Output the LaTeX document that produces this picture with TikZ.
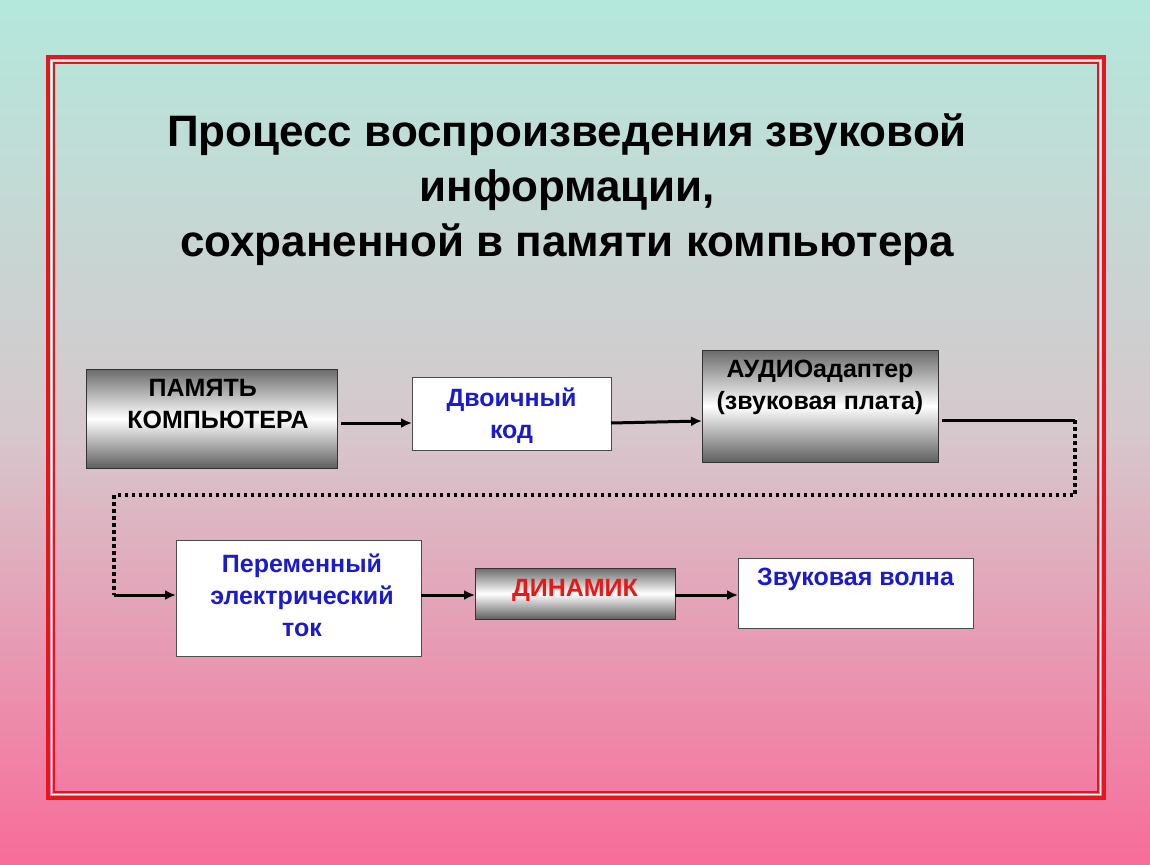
\documentclass[tikz,border=0pt]{standalone}
\usepackage{fontspec}
\setmainfont{Liberation Sans}
\usetikzlibrary{arrows.meta}
\definecolor{bgtop}{HTML}{B4E8DC}
\definecolor{bgmid}{HTML}{D6C8CC}
\definecolor{bgbot}{HTML}{F86C9A}
\definecolor{frred}{HTML}{E8141E}
\definecolor{txtblue}{HTML}{1A1AD0}
\definecolor{txtred}{HTML}{E81818}
\definecolor{metdark}{HTML}{6A6A6A}
\begin{document}
\begin{tikzpicture}[x=1pt,y=-1pt,
  metal/.style={draw=black!80,line width=1pt,top color=metdark,bottom color=metdark!90!black,middle color=white},
  plain/.style={draw=black!70,line width=1pt,fill=white},
  btxt/.style={font=\bfseries\fontsize{25}{32}\selectfont,align=center,inner sep=0pt},
  link/.style={line width=3pt,-{Latex[length=11pt,width=10pt]}},
  dots/.style={line width=3.5pt,dash pattern=on 3.5pt off 3.5pt}]
\useasboundingbox (0,0) rectangle (1150,864);
\shade[top color=bgtop,bottom color=bgbot,middle color=bgmid] (0,0) rectangle (1150,864);
\draw[frred,line width=4pt] (48,57) rectangle (1104,798);
\draw[white,line width=1.5pt] (51.5,60.5) rectangle (1100.5,794.5);
\draw[frred,line width=1.5pt] (54,63) rectangle (1098,792);
\node[font=\bfseries\fontsize{44}{55}\selectfont,align=center] (title) at (567,190)
  {Процесс воспроизведения звуковой\\информации,\\сохраненной в памяти компьютера};
\path[metal] (86,369) rectangle (337,468);
\node[btxt,align=left,anchor=center] (mem) at (218,404) {\hspace*{0.85em}ПАМЯТЬ\\КОМПЬЮТЕРА};
\coordinate (memE) at (341,423);
\node[plain,minimum width=199pt,minimum height=73pt] (bin) at (511.5,413.5) {};
\node[btxt,text=txtblue] (bint) at (511.5,416) {Двоичный\\код};
\path[metal] (702,350) rectangle (938,462);
\node[btxt,anchor=north] (aud) at (820,360) {АУДИОадаптер\\(звуковая плата)};
\node[plain,minimum width=245pt,minimum height=116pt] (cur) at (298.5,598) {};
\node[btxt,text=txtblue] (curt) at (302,595) {Переменный\\электрический\\ток};
\path[metal] (475,568) rectangle (675,619);
\node[btxt,text=txtred] (din) at (575,590) {ДИНАМИК};
\draw[black!70,line width=1pt,fill=white] (738,558) rectangle (973,628);
\node[btxt,text=txtblue,anchor=north] (wave) at (855.5,568) {Звуковая волна};
\coordinate (a1) at (942,420);
\coordinate (a2) at (1075,420);
\coordinate (a3) at (1075,495);
\coordinate (a4) at (114,495);
\coordinate (a5) at (114,595);
\coordinate (binW) at (412,423);
\coordinate (binE) at (611,423);
\coordinate (audW) at (702,421);
\coordinate (curW) at (176,595);
\coordinate (curE) at (421,595);
\coordinate (dinW) at (475,595);
\coordinate (dinE) at (675,595);
\coordinate (waveW) at (738,595);
\draw[link] (memE) -- (binW);
\draw[link] (binE) -- (audW);
\draw[line width=3pt] (a1) -- (a2);
\draw[dots] (a2) -- (a3) -- (a4) -- (a5);
\draw[link] (a5) -- (curW);
\draw[link] (curE) -- (dinW);
\draw[link] (dinE) -- (waveW);
\end{tikzpicture}
\end{document}
